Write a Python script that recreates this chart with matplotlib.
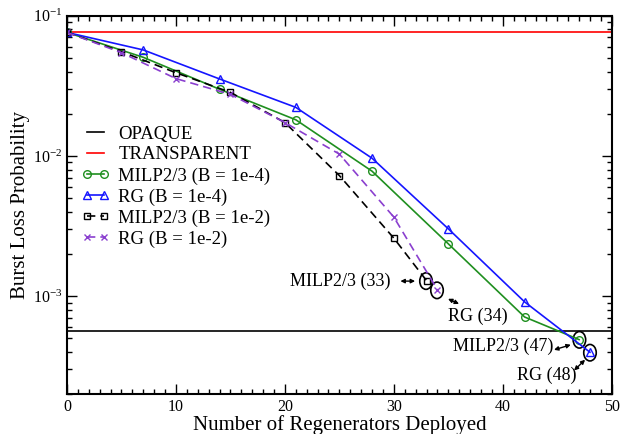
import numpy as np
import matplotlib
matplotlib.use("Agg")
import matplotlib.pyplot as plt
import matplotlib.transforms as mtransforms
from matplotlib.patches import Ellipse
from matplotlib.ticker import MultipleLocator, LogLocator, NullFormatter

plt.rcParams['font.family'] = ['Liberation Serif', 'DejaVu Serif']
plt.rcParams['mathtext.fontset'] = 'stix'

# data
opaque = 5.6e-4
transparent = 0.076

x_milp_4 = [0, 7, 14, 21, 28, 35, 42, 47]
y_milp_4 = [0.076, 0.0505, 0.0299, 0.0181, 0.00778, 0.00236, 7.1e-4, 4.9e-4]

x_rg_4 = [0, 7, 14, 21, 28, 35, 42, 48]
y_rg_4 = [0.076, 0.057, 0.0354, 0.0222, 0.00963, 0.00302, 9.1e-4, 3.98e-4]

x_milp_2 = [0, 5, 10, 15, 20, 25, 30, 33]
y_milp_2 = [0.076, 0.0554, 0.0392, 0.0284, 0.0173, 0.00724, 0.00259, 0.00129]

x_rg_2 = [0, 5, 10, 15, 20, 25, 30, 34]
y_rg_2 = [0.076, 0.0545, 0.0356, 0.0275, 0.0173, 0.0103, 0.00366, 0.00111]

fig = plt.figure(figsize=(6.32, 4.34), dpi=100)
ax = fig.add_axes([0.106, 0.0915, 0.862, 0.8723])

ax.axhline(opaque, color='black', lw=1.2, label='OPAQUE')
ax.axhline(transparent, color='red', lw=1.2, label='TRANSPARENT')
ax.plot(x_milp_4, y_milp_4, '-', color='#1f8f1f', marker='o', mfc='none', ms=5.5, lw=1.2,
        label='MILP2/3 (B = 1e-4)')
ax.plot(x_rg_4, y_rg_4, '-', color='#1515ff', marker='^', mfc='none', ms=6, lw=1.2,
        label='RG (B = 1e-4)')
ax.plot(x_milp_2, y_milp_2, '--', color='black', marker='s', mfc='none', ms=4.5, lw=1.2,
        dashes=(5, 3), label='MILP2/3 (B = 1e-2)')
ax.plot(x_rg_2, y_rg_2, '--', color='#8a3fcf', marker='x', ms=5, lw=1.2,
        dashes=(5, 3), label='RG (B = 1e-2)')

ax.set_yscale('log')
ax.set_xlim(0, 50)
ax.set_ylim(10 ** -3.70, 0.1)
ax.xaxis.set_major_locator(MultipleLocator(10))
ax.xaxis.set_minor_locator(MultipleLocator(1))
ax.yaxis.set_major_locator(LogLocator(base=10, numticks=10))
ax.yaxis.set_minor_locator(LogLocator(base=10, subs=np.arange(2, 10), numticks=20))
ax.yaxis.set_minor_formatter(NullFormatter())
ax.tick_params(which='both', direction='in', top=True, right=True, labelsize=11.5)
ax.tick_params(which='major', length=7, width=1)
ax.tick_params(which='minor', length=3.5, width=1)
for s in ax.spines.values():
    s.set_linewidth(1.5)

ax.set_xlabel('Number of Regenerators Deployed', fontsize=15, labelpad=0)
ax.set_ylabel('Burst Loss Probability', fontsize=15, labelpad=2)

leg = ax.legend(loc='upper left', bbox_to_anchor=(0.027, 0.71), frameon=False,
                fontsize=13.5, numpoints=2, handlelength=1.5, handletextpad=0.45,
                labelspacing=0.2, borderaxespad=0, borderpad=0)

# ellipses around the end points, sized in inches
for (xc, yc) in [(32.95, 0.00128), (33.96, 0.0011), (47.03, 4.88e-4), (48.0, 3.95e-4)]:
    tr = fig.dpi_scale_trans + mtransforms.ScaledTranslation(xc, yc, ax.transData)
    ax.add_patch(Ellipse((0, 0), 0.125, 0.165, fill=False, lw=1.2, edgecolor='black',
                         transform=tr, clip_on=False))

def arrow(x0, y0, x1, y1):
    ax.annotate('', xy=(x1, y1), xytext=(x0, y0),
                arrowprops=dict(arrowstyle='<|-|>', lw=1, color='black',
                                mutation_scale=6, shrinkA=0, shrinkB=0))

ax.text(29.65, 1.27e-3, 'MILP2/3 (33)', fontsize=13, ha='right', va='center')
arrow(30.6, 1.28e-3, 31.95, 1.28e-3)
ax.text(34.97, 7.16e-4, 'RG (34)', fontsize=13, ha='left', va='center')
arrow(34.97, 9.57e-4, 35.98, 8.8e-4)
ax.text(35.43, 4.37e-4, 'MILP2/3 (47)', fontsize=13, ha='left', va='center')
arrow(44.70, 4.14e-4, 46.24, 4.5e-4)
ax.text(41.31, 2.72e-4, 'RG (48)', fontsize=13, ha='left', va='center')
arrow(46.54, 2.95e-4, 47.55, 3.52e-4)

fig.savefig('out.png', dpi=100)
